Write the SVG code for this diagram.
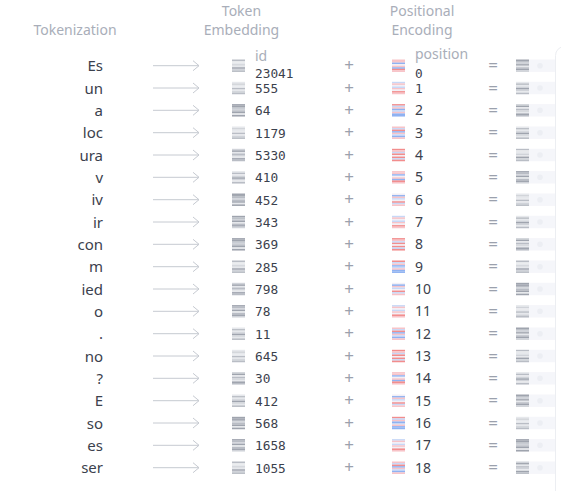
<svg xmlns="http://www.w3.org/2000/svg" width="561" height="491" viewBox="0 0 561 491">
<style>
.hd{font-family:"Noto Sans","Open Sans",sans-serif;font-size:14px;fill:#a9aeb9;text-anchor:middle}
.lb{font-family:"Noto Sans","Open Sans",sans-serif;font-size:14px;fill:#a9aeb9}
.tok{font-family:"Noto Sans","Open Sans",sans-serif;font-size:15px;fill:#3b414d;text-anchor:end}
.num{font-family:"DejaVu Sans Mono","Liberation Mono",monospace;font-size:12.8px;fill:#3b414d}
.pos{font-family:"Noto Sans","Open Sans",sans-serif;font-size:14px;fill:#3b414d}
.posm{font-family:"DejaVu Sans Mono","Liberation Mono",monospace;font-size:12.8px;fill:#3b414d}
.op{font-family:"Noto Sans","Open Sans",sans-serif;font-size:17px;fill:#9ba1ad;text-anchor:middle}
.arr{fill:none;stroke:#c6cad1;stroke-width:1}
.strip{fill:#f5f6fa}
.dot{fill:#eceef3}
.k1{fill:#9fa4ae}.k2{fill:#b9bdc5}.k3{fill:#d0d3d9}.k4{fill:#e6e8ec}
.r1{fill:#f28d8d}.r2{fill:#f7c3c8}.b1{fill:#8fb2f2}.b2{fill:#c7d8f7}.w{fill:#f2eff5}
</style>
<defs>
<g id="gA"><rect class="k2" y="0" width="13" height="1.6"/><rect class="k4" y="1.55" width="13" height="1.6"/><rect class="k4" y="3.1" width="13" height="1.6"/><rect class="k3" y="4.65" width="13" height="1.6"/><rect class="k4" y="6.2" width="13" height="1.6"/><rect class="k1" y="7.75" width="13" height="1.6"/><rect class="k3" y="9.3" width="13" height="1.6"/><rect class="k2" y="10.85" width="13" height="1.6"/></g>
<g id="gB"><rect class="k4" y="0" width="13" height="1.6"/><rect class="k3" y="1.55" width="13" height="1.6"/><rect class="k4" y="3.1" width="13" height="1.6"/><rect class="k4" y="4.65" width="13" height="1.6"/><rect class="k2" y="6.2" width="13" height="1.6"/><rect class="k4" y="7.75" width="13" height="1.6"/><rect class="k3" y="9.3" width="13" height="1.6"/><rect class="k2" y="10.85" width="13" height="1.6"/></g>
<g id="gC"><rect class="k1" y="0" width="13" height="1.6"/><rect class="k2" y="1.55" width="13" height="1.6"/><rect class="k3" y="3.1" width="13" height="1.6"/><rect class="k1" y="4.65" width="13" height="1.6"/><rect class="k4" y="6.2" width="13" height="1.6"/><rect class="k2" y="7.75" width="13" height="1.6"/><rect class="k1" y="9.3" width="13" height="1.6"/><rect class="k3" y="10.85" width="13" height="1.6"/></g>
<g id="gD"><rect class="k3" y="0" width="13" height="1.6"/><rect class="k1" y="1.55" width="13" height="1.6"/><rect class="k4" y="3.1" width="13" height="1.6"/><rect class="k2" y="4.65" width="13" height="1.6"/><rect class="k3" y="6.2" width="13" height="1.6"/><rect class="k4" y="7.75" width="13" height="1.6"/><rect class="k1" y="9.3" width="13" height="1.6"/><rect class="k2" y="10.85" width="13" height="1.6"/></g>
<g id="gE"><rect class="k1" y="0" width="13" height="1.6"/><rect class="k1" y="1.55" width="13" height="1.6"/><rect class="k2" y="3.1" width="13" height="1.6"/><rect class="k3" y="4.65" width="13" height="1.6"/><rect class="k2" y="6.2" width="13" height="1.6"/><rect class="k1" y="7.75" width="13" height="1.6"/><rect class="k4" y="9.3" width="13" height="1.6"/><rect class="k1" y="10.85" width="13" height="1.6"/></g>
<g id="gF"><rect class="k4" y="0" width="13" height="1.6"/><rect class="k2" y="1.55" width="13" height="1.6"/><rect class="k4" y="3.1" width="13" height="1.6"/><rect class="k3" y="4.65" width="13" height="1.6"/><rect class="k1" y="6.2" width="13" height="1.6"/><rect class="k3" y="7.75" width="13" height="1.6"/><rect class="k4" y="9.3" width="13" height="1.6"/><rect class="k2" y="10.85" width="13" height="1.6"/></g>
<g id="pA"><rect class="r2" y="0" width="13" height="1.6"/><rect class="r2" y="1.55" width="13" height="1.6"/><rect class="b1" y="3.1" width="13" height="1.6"/><rect class="w" y="4.65" width="13" height="1.6"/><rect class="r2" y="6.2" width="13" height="1.6"/><rect class="b1" y="7.75" width="13" height="1.6"/><rect class="r1" y="9.3" width="13" height="1.6"/><rect class="r2" y="10.85" width="13" height="1.6"/></g>
<g id="pB"><rect class="b2" y="0" width="13" height="1.6"/><rect class="r2" y="1.55" width="13" height="1.6"/><rect class="w" y="3.1" width="13" height="1.6"/><rect class="b2" y="4.65" width="13" height="1.6"/><rect class="r2" y="6.2" width="13" height="1.6"/><rect class="w" y="7.75" width="13" height="1.6"/><rect class="r1" y="9.3" width="13" height="1.6"/><rect class="r2" y="10.85" width="13" height="1.6"/></g>
<g id="pC"><rect class="r1" y="0" width="13" height="1.6"/><rect class="b2" y="1.55" width="13" height="1.6"/><rect class="r2" y="3.1" width="13" height="1.6"/><rect class="b1" y="4.65" width="13" height="1.6"/><rect class="b2" y="6.2" width="13" height="1.6"/><rect class="r2" y="7.75" width="13" height="1.6"/><rect class="b1" y="9.3" width="13" height="1.6"/><rect class="b1" y="10.85" width="13" height="1.6"/></g>
<g id="pD"><rect class="r2" y="0" width="13" height="1.6"/><rect class="b2" y="1.55" width="13" height="1.6"/><rect class="r1" y="3.1" width="13" height="1.6"/><rect class="b1" y="4.65" width="13" height="1.6"/><rect class="r2" y="6.2" width="13" height="1.6"/><rect class="b2" y="7.75" width="13" height="1.6"/><rect class="b1" y="9.3" width="13" height="1.6"/><rect class="r2" y="10.85" width="13" height="1.6"/></g>
<g id="pE"><rect class="r1" y="0" width="13" height="1.6"/><rect class="r2" y="1.55" width="13" height="1.6"/><rect class="b2" y="3.1" width="13" height="1.6"/><rect class="r1" y="4.65" width="13" height="1.6"/><rect class="w" y="6.2" width="13" height="1.6"/><rect class="r1" y="7.75" width="13" height="1.6"/><rect class="b2" y="9.3" width="13" height="1.6"/><rect class="r1" y="10.85" width="13" height="1.6"/></g>
<g id="pF"><rect class="w" y="0" width="13" height="1.6"/><rect class="b1" y="1.55" width="13" height="1.6"/><rect class="r2" y="3.1" width="13" height="1.6"/><rect class="b2" y="4.65" width="13" height="1.6"/><rect class="w" y="6.2" width="13" height="1.6"/><rect class="r1" y="7.75" width="13" height="1.6"/><rect class="b2" y="9.3" width="13" height="1.6"/><rect class="r2" y="10.85" width="13" height="1.6"/></g>
<g id="res"><rect class="strip" x="13" y="0" width="26" height="12.4"/><circle class="dot" cx="24" cy="6.2" r="2.8"/></g>
</defs>

<g id="headers">
<text class="hd" x="75" y="35">Tokenization</text>
<text class="hd" x="241.5" y="16">Token</text>
<text class="hd" x="241.5" y="35">Embedding</text>
<text class="hd" x="422" y="16">Positional</text>
<text class="hd" x="422" y="35">Encoding</text>
</g>

<rect id="panel" x="555.5" y="46.5" width="30" height="460" rx="9" fill="none" stroke="#eceef2"/>

<g id="connectors" class="arr">
<path d="M153 65.7H199M193 60.7L199 65.7L193 70.7"/>
<path d="M153 88H199M193 83L199 88L193 93"/>
<path d="M153 110.3H199M193 105.3L199 110.3L193 115.3"/>
<path d="M153 132.7H199M193 127.7L199 132.7L193 137.7"/>
<path d="M153 155H199M193 150L199 155L193 160"/>
<path d="M153 177.3H199M193 172.3L199 177.3L193 182.3"/>
<path d="M153 199.7H199M193 194.7L199 199.7L193 204.7"/>
<path d="M153 222H199M193 217L199 222L193 227"/>
<path d="M153 244.3H199M193 239.3L199 244.3L193 249.3"/>
<path d="M153 266.7H199M193 261.7L199 266.7L193 271.7"/>
<path d="M153 289H199M193 284L199 289L193 294"/>
<path d="M153 311.3H199M193 306.3L199 311.3L193 316.3"/>
<path d="M153 333.7H199M193 328.7L199 333.7L193 338.7"/>
<path d="M153 356H199M193 351L199 356L193 361"/>
<path d="M153 378.3H199M193 373.3L199 378.3L193 383.3"/>
<path d="M153 400.7H199M193 395.7L199 400.7L193 405.7"/>
<path d="M153 423H199M193 418L199 423L193 428"/>
<path d="M153 445.3H199M193 440.3L199 445.3L193 450.3"/>
<path d="M153 467.7H199M193 462.7L199 467.7L193 472.7"/>
</g>

<g id="row0" transform="translate(0,65.7)">
<text class="tok" x="103" y="5.5">Es</text>
<use href="#gA" x="232" y="-6.2"/>
<text class="lb" x="255" y="-5">id</text>
<text class="num" x="255" y="12">23041</text>
<text class="op" x="349" y="5.5">+</text>
<use href="#pA" x="392" y="-6.2"/>
<text class="lb" x="415" y="-7">position</text>
<text class="posm" x="415" y="12">0</text>
<text class="op" x="493" y="5.5">=</text>
<use href="#gC" x="516" y="-6.2"/><use href="#res" x="516" y="-6.2"/>
</g>
<g id="row1" transform="translate(0,88)">
<text class="tok" x="103" y="5.5">un</text>
<use href="#gB" x="232" y="-6.2"/>
<text class="num" x="255" y="5">555</text>
<text class="op" x="349" y="5.5">+</text>
<use href="#pB" x="392" y="-6.2"/>
<text class="posm" x="415" y="5">1</text>
<text class="op" x="493" y="5.5">=</text>
<use href="#gF" x="516" y="-6.2"/><use href="#res" x="516" y="-6.2"/>
</g>
<g id="row2" transform="translate(0,110.3)">
<text class="tok" x="103" y="5.5">a</text>
<use href="#gE" x="232" y="-6.2"/>
<text class="num" x="255" y="5">64</text>
<text class="op" x="349" y="5.5">+</text>
<use href="#pC" x="392" y="-6.2"/>
<text class="pos" x="415" y="5">2</text>
<text class="op" x="493" y="5.5">=</text>
<use href="#gD" x="516" y="-6.2"/><use href="#res" x="516" y="-6.2"/>
</g>
<g id="row3" transform="translate(0,132.7)">
<text class="tok" x="103" y="5.5">loc</text>
<use href="#gB" x="232" y="-6.2"/>
<text class="num" x="255" y="5">1179</text>
<text class="op" x="349" y="5.5">+</text>
<use href="#pD" x="392" y="-6.2"/>
<text class="pos" x="415" y="5">3</text>
<text class="op" x="493" y="5.5">=</text>
<use href="#gF" x="516" y="-6.2"/><use href="#res" x="516" y="-6.2"/>
</g>
<g id="row4" transform="translate(0,155)">
<text class="tok" x="103" y="5.5">ura</text>
<use href="#gD" x="232" y="-6.2"/>
<text class="num" x="255" y="5">5330</text>
<text class="op" x="349" y="5.5">+</text>
<use href="#pE" x="392" y="-6.2"/>
<text class="pos" x="415" y="5">4</text>
<text class="op" x="493" y="5.5">=</text>
<use href="#gA" x="516" y="-6.2"/><use href="#res" x="516" y="-6.2"/>
</g>
<g id="row5" transform="translate(0,177.3)">
<text class="tok" x="103" y="5.5">v</text>
<use href="#gF" x="232" y="-6.2"/>
<text class="num" x="255" y="5">410</text>
<text class="op" x="349" y="5.5">+</text>
<use href="#pA" x="392" y="-6.2"/>
<text class="pos" x="415" y="5">5</text>
<text class="op" x="493" y="5.5">=</text>
<use href="#gC" x="516" y="-6.2"/><use href="#res" x="516" y="-6.2"/>
</g>
<g id="row6" transform="translate(0,199.7)">
<text class="tok" x="103" y="5.5">iv</text>
<use href="#gE" x="232" y="-6.2"/>
<text class="num" x="255" y="5">452</text>
<text class="op" x="349" y="5.5">+</text>
<use href="#pF" x="392" y="-6.2"/>
<text class="pos" x="415" y="5">6</text>
<text class="op" x="493" y="5.5">=</text>
<use href="#gB" x="516" y="-6.2"/><use href="#res" x="516" y="-6.2"/>
</g>
<g id="row7" transform="translate(0,222)">
<text class="tok" x="103" y="5.5">ir</text>
<use href="#gC" x="232" y="-6.2"/>
<text class="num" x="255" y="5">343</text>
<text class="op" x="349" y="5.5">+</text>
<use href="#pB" x="392" y="-6.2"/>
<text class="pos" x="415" y="5">7</text>
<text class="op" x="493" y="5.5">=</text>
<use href="#gF" x="516" y="-6.2"/><use href="#res" x="516" y="-6.2"/>
</g>
<g id="row8" transform="translate(0,244.3)">
<text class="tok" x="103" y="5.5">con</text>
<use href="#gE" x="232" y="-6.2"/>
<text class="num" x="255" y="5">369</text>
<text class="op" x="349" y="5.5">+</text>
<use href="#pE" x="392" y="-6.2"/>
<text class="pos" x="415" y="5">8</text>
<text class="op" x="493" y="5.5">=</text>
<use href="#gD" x="516" y="-6.2"/><use href="#res" x="516" y="-6.2"/>
</g>
<g id="row9" transform="translate(0,266.7)">
<text class="tok" x="103" y="5.5">m</text>
<use href="#gA" x="232" y="-6.2"/>
<text class="num" x="255" y="5">285</text>
<text class="op" x="349" y="5.5">+</text>
<use href="#pC" x="392" y="-6.2"/>
<text class="pos" x="415" y="5">9</text>
<text class="op" x="493" y="5.5">=</text>
<use href="#gA" x="516" y="-6.2"/><use href="#res" x="516" y="-6.2"/>
</g>
<g id="row10" transform="translate(0,289)">
<text class="tok" x="103" y="5.5">ied</text>
<use href="#gD" x="232" y="-6.2"/>
<text class="num" x="255" y="5">798</text>
<text class="op" x="349" y="5.5">+</text>
<use href="#pF" x="392" y="-6.2"/>
<text class="pos" x="415" y="5">10</text>
<text class="op" x="493" y="5.5">=</text>
<use href="#gE" x="516" y="-6.2"/><use href="#res" x="516" y="-6.2"/>
</g>
<g id="row11" transform="translate(0,311.3)">
<text class="tok" x="103" y="5.5">o</text>
<use href="#gC" x="232" y="-6.2"/>
<text class="num" x="255" y="5">78</text>
<text class="op" x="349" y="5.5">+</text>
<use href="#pB" x="392" y="-6.2"/>
<text class="pos" x="415" y="5">11</text>
<text class="op" x="493" y="5.5">=</text>
<use href="#gB" x="516" y="-6.2"/><use href="#res" x="516" y="-6.2"/>
</g>
<g id="row12" transform="translate(0,333.7)">
<text class="tok" x="103" y="5.5">.</text>
<use href="#gF" x="232" y="-6.2"/>
<text class="num" x="255" y="5">11</text>
<text class="op" x="349" y="5.5">+</text>
<use href="#pD" x="392" y="-6.2"/>
<text class="pos" x="415" y="5">12</text>
<text class="op" x="493" y="5.5">=</text>
<use href="#gC" x="516" y="-6.2"/><use href="#res" x="516" y="-6.2"/>
</g>
<g id="row13" transform="translate(0,356)">
<text class="tok" x="103" y="5.5">no</text>
<use href="#gB" x="232" y="-6.2"/>
<text class="num" x="255" y="5">645</text>
<text class="op" x="349" y="5.5">+</text>
<use href="#pE" x="392" y="-6.2"/>
<text class="pos" x="415" y="5">13</text>
<text class="op" x="493" y="5.5">=</text>
<use href="#gA" x="516" y="-6.2"/><use href="#res" x="516" y="-6.2"/>
</g>
<g id="row14" transform="translate(0,378.3)">
<text class="tok" x="103" y="5.5">?</text>
<use href="#gD" x="232" y="-6.2"/>
<text class="num" x="255" y="5">30</text>
<text class="op" x="349" y="5.5">+</text>
<use href="#pA" x="392" y="-6.2"/>
<text class="pos" x="415" y="5">14</text>
<text class="op" x="493" y="5.5">=</text>
<use href="#gF" x="516" y="-6.2"/><use href="#res" x="516" y="-6.2"/>
</g>
<g id="row15" transform="translate(0,400.7)">
<text class="tok" x="103" y="5.5">E</text>
<use href="#gF" x="232" y="-6.2"/>
<text class="num" x="255" y="5">412</text>
<text class="op" x="349" y="5.5">+</text>
<use href="#pF" x="392" y="-6.2"/>
<text class="pos" x="415" y="5">15</text>
<text class="op" x="493" y="5.5">=</text>
<use href="#gC" x="516" y="-6.2"/><use href="#res" x="516" y="-6.2"/>
</g>
<g id="row16" transform="translate(0,423)">
<text class="tok" x="103" y="5.5">so</text>
<use href="#gE" x="232" y="-6.2"/>
<text class="num" x="255" y="5">568</text>
<text class="op" x="349" y="5.5">+</text>
<use href="#pC" x="392" y="-6.2"/>
<text class="pos" x="415" y="5">16</text>
<text class="op" x="493" y="5.5">=</text>
<use href="#gB" x="516" y="-6.2"/><use href="#res" x="516" y="-6.2"/>
</g>
<g id="row17" transform="translate(0,445.3)">
<text class="tok" x="103" y="5.5">es</text>
<use href="#gC" x="232" y="-6.2"/>
<text class="num" x="255" y="5">1658</text>
<text class="op" x="349" y="5.5">+</text>
<use href="#pB" x="392" y="-6.2"/>
<text class="pos" x="415" y="5">17</text>
<text class="op" x="493" y="5.5">=</text>
<use href="#gE" x="516" y="-6.2"/><use href="#res" x="516" y="-6.2"/>
</g>
<g id="row18" transform="translate(0,467.7)">
<text class="tok" x="103" y="5.5">ser</text>
<use href="#gA" x="232" y="-6.2"/>
<text class="num" x="255" y="5">1055</text>
<text class="op" x="349" y="5.5">+</text>
<use href="#pD" x="392" y="-6.2"/>
<text class="pos" x="415" y="5">18</text>
<text class="op" x="493" y="5.5">=</text>
<use href="#gD" x="516" y="-6.2"/><use href="#res" x="516" y="-6.2"/>
</g>
</svg>
